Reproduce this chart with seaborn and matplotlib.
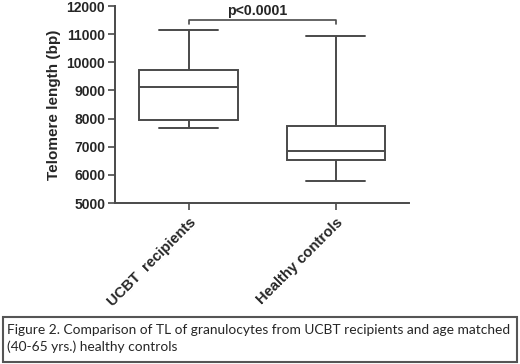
import pandas as pd
import seaborn as sns
import matplotlib.pyplot as plt
from matplotlib.patches import Rectangle

# five-number summaries (min, Q1, median, Q3, max)
groups = ["UCBT  recipients", "Healthy controls"]
ucbt_tl = [7650, 7950, 9140, 9740, 11140]
healthy_tl = [5770, 6530, 6850, 7740, 10940]
y_ticks = [5000, 6000, 7000, 8000, 9000, 10000, 11000, 12000]

df = pd.DataFrame({
    "group": [groups[0]] * len(ucbt_tl) + [groups[1]] * len(healthy_tl),
    "tl": ucbt_tl + healthy_tl,
})

sns.set_style("ticks")
plt.rcParams['font.family'] = ['Liberation Sans', 'DejaVu Sans']

fig = plt.figure(figsize=(5.2, 3.64), dpi=100)
ax = fig.add_axes([0.221, 0.442, 0.566, 0.5415])

line_col = "#4a4a4a"
sns.boxplot(
    data=df, x="group", y="tl", ax=ax,
    whis=(0, 100), width=0.667, color="white", linecolor=line_col,
    linewidth=1.4, showfliers=False, capwidths=0.4,
)

ax.set_xlim(-0.5, 1.5)
ax.set_ylim(5000, 12000)
ax.set_yticks(y_ticks)
ax.set_yticklabels([str(t) for t in y_ticks], fontsize=10, fontweight="bold")
ax.set_xticks([0, 1])
ax.set_xticklabels(groups, rotation=45, ha="right", rotation_mode="anchor",
                   fontsize=10.6, fontweight="bold")
ax.set_xlabel("")
ax.set_ylabel("Telomere length (bp)", fontsize=11, fontweight="bold", labelpad=4)
ax.tick_params(length=5, width=1.2, color=line_col, pad=2)
ax.tick_params(axis="x", pad=4)
for side in ["left", "bottom"]:
    ax.spines[side].set_color(line_col)
    ax.spines[side].set_linewidth(1.4)
sns.despine(ax=ax)

# significance bracket
ax.plot([0, 0, 1, 1], [11360, 11500, 11500, 11360], color=line_col, lw=1.2,
        clip_on=False)
ax.text(0.47, 11580, "p<0.0001", ha="center", va="bottom", fontsize=10.2,
        fontweight="bold")

# caption box
fig.patches.append(Rectangle((0.006, 0.005), 0.988, 0.124, transform=fig.transFigure,
                             fill=False, edgecolor="#555555", lw=1.5))
fig.text(0.014, 0.093, "Figure 2. Comparison of TL of granulocytes from UCBT recipients and age matched",
         fontsize=9.9, family="Lato", va="center")
fig.text(0.014, 0.048, "(40-65 yrs.) healthy controls", fontsize=9.9, family="Lato",
         va="center")

fig.savefig("out.png", dpi=100)
